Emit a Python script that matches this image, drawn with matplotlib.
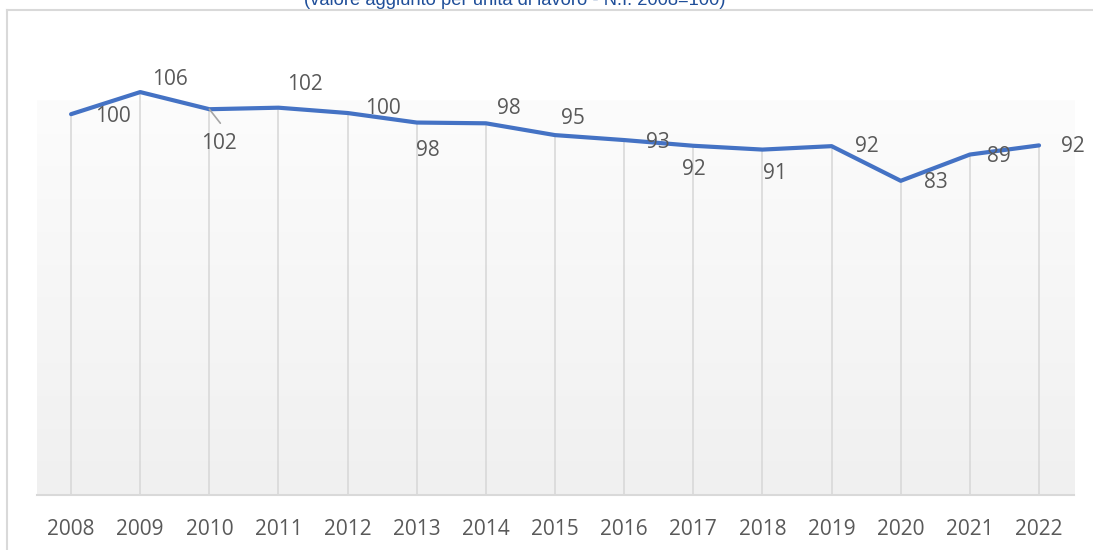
import numpy as np
import matplotlib
matplotlib.use("Agg")
import matplotlib.pyplot as plt
from matplotlib.lines import Line2D

years = ["2008", "2009", "2010", "2011", "2012", "2013", "2014", "2015",
         "2016", "2017", "2018", "2019", "2020", "2021", "2022"]
values = [100.0, 105.8, 101.3, 101.7, 100.3, 97.8, 97.6, 94.5, 93.2,
          91.7, 90.7, 91.6, 82.5, 89.4, 91.8]
labels = ["100", "106", "102", "102", "100", "98", "98", "95", "93",
          "92", "91", "92", "83", "89", "92"]
title = "(valore aggiunto per unità di lavoro - N.I. 2008=100)"

# label offsets in pixels (dx, dy) relative to point (style)
offsets = [(42, -2), (30, 13), (10, -34), (26, 23), (35, 5), (11, -28),
           (23, 15), (18, 17), (34, -2), (1, -24), (12, -24), (35, 0),
           (35, -2), (29, -2), (34, -1)]

W, H = 1093, 550
fig = plt.figure(figsize=(W / 100, H / 100), dpi=100)
fig.patch.set_facecolor("white")

left_px, right_px, top_px, bot_px = 36.5, 1073.6, 38, 495
ax = fig.add_axes([left_px / W, 1 - bot_px / H,
                   (right_px - left_px) / W, (bot_px - top_px) / H])
ax.patch.set_alpha(0)
x = np.arange(len(years))
ax.set_xlim(-0.5, len(years) - 0.5)
ax.set_ylim(0, 120)

# gradient background (plot-area fill)
grad = np.linspace(0, 1, 256).reshape(-1, 1)
top_c = np.array([0xfc, 0xfc, 0xfc]) / 255
bot_c = np.array([0xf0, 0xf0, 0xf0]) / 255
img = top_c + (bot_c - top_c) * grad  # row 0 = top
fill_top = (bot_px - 100) / (bot_px - top_px)
ax.imshow(img[:, None, :].repeat(2, axis=1), aspect="auto",
          extent=[0, 1, 0, fill_top], origin="upper", zorder=0,
          transform=ax.transAxes)
ax.set_xlim(-0.5, len(years) - 0.5)
ax.set_ylim(0, 120)

# drop lines
ax.vlines(x, 0, values, color="#d9d9d9", lw=1.2, zorder=1)

ax.plot(x, values, color="#4472C4", lw=3.0, solid_capstyle="round",
        solid_joinstyle="round", zorder=3)

font = "Open Sans"
for xi, v, lab, (dx, dy) in zip(x, values, labels, offsets):
    ax.annotate(lab, (xi, v), xytext=(dx, dy), textcoords="offset pixels",
                ha="center", va="center", fontsize=15, color="#595959",
                family=font, zorder=4)

# leader line for 2010 label
ax.annotate("", xy=(2, values[2]), xytext=(11, -14), textcoords="offset pixels",
            xycoords="data",
            arrowprops=dict(arrowstyle="-", color="#a6a6a6", lw=1.2,
                            shrinkA=0, shrinkB=0))

for s in ["left", "right", "top"]:
    ax.spines[s].set_visible(False)
ax.spines["bottom"].set_color("#d9d9d9")
ax.spines["bottom"].set_linewidth(1.5)
ax.set_yticks([])
ax.set_xticks(x)
ax.set_xticklabels(years, fontsize=15, color="#595959", family=font)
ax.tick_params(axis="x", length=0, pad=17)

# chart border
fig.add_artist(Line2D([7 / W, 7 / W], [0, 1 - 10 / H], color="#d9d9d9",
                      lw=1.5, transform=fig.transFigure))
fig.add_artist(Line2D([7 / W, 1], [1 - 10 / H, 1 - 10 / H], color="#d9d9d9",
                      lw=1.5, transform=fig.transFigure))

fig.text(515 / W, 1 - 5 / H, title, ha="center", va="baseline",
         fontsize=13.2, color="#1F4E99", family="Liberation Sans")

fig.savefig("out.png", dpi=100)
